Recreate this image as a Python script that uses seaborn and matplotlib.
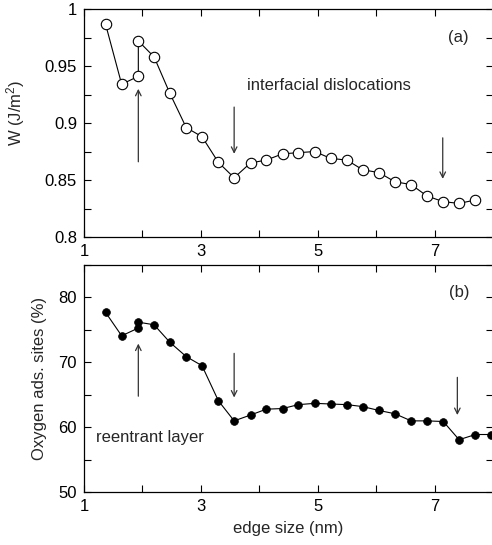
import matplotlib
matplotlib.use("Agg")
import matplotlib.pyplot as plt
from matplotlib.ticker import FixedLocator, FuncFormatter, MultipleLocator
import seaborn as sns
import pandas as pd

# ---- data ----
edge_a = [1.37, 1.645, 1.93, 1.93, 2.20, 2.47, 2.75, 3.02, 3.30, 3.57, 3.85, 4.12, 4.40,
          4.67, 4.95, 5.22, 5.50, 5.77, 6.05, 6.32, 6.60, 6.87, 7.15, 7.42, 7.70]
W_vals = [0.9866, 0.934, 0.941, 0.972, 0.958, 0.926, 0.896, 0.888, 0.8655, 0.852, 0.865,
          0.8675, 0.873, 0.874, 0.875, 0.869, 0.8675, 0.859, 0.8565, 0.8485, 0.846, 0.836,
          0.831, 0.8295, 0.8325]

edge_b = [1.37, 1.645, 1.93, 1.93, 2.20, 2.47, 2.75, 3.02, 3.30, 3.57, 3.85, 4.12, 4.40,
          4.67, 4.95, 5.22, 5.50, 5.77, 6.05, 6.32, 6.60, 6.87, 7.15, 7.42, 7.70, 7.97]
O_vals = [77.7, 74.1, 75.3, 76.2, 75.8, 73.1, 70.9, 69.5, 64.1, 61.0, 61.9, 62.8, 62.9,
          63.5, 63.7, 63.6, 63.5, 63.2, 62.6, 62.1, 61.0, 61.0, 60.9, 58.1, 58.9, 58.9]

x_ticks = [1, 2, 3, 4, 5, 6, 7, 8]
x_labels_shown = [1, 3, 5, 7]

df_a = pd.DataFrame({"edge": edge_a, "W": W_vals})
df_b = pd.DataFrame({"edge": edge_b, "O": O_vals})

sns.set_style("ticks")
plt.rcParams["font.family"] = ["Liberation Sans", "DejaVu Sans"]
plt.rcParams["mathtext.fontset"] = "custom"
plt.rcParams["mathtext.rm"] = "Liberation Sans"
plt.rcParams["mathtext.it"] = "Liberation Sans:italic"
plt.rcParams["xtick.direction"] = "in"
plt.rcParams["ytick.direction"] = "in"

fig = plt.figure(figsize=(4.92, 5.45), dpi=100)
ax1 = fig.add_axes([0.1707, 0.5651, 0.8313, 0.4183])
ax2 = fig.add_axes([0.1707, 0.0967, 0.8313, 0.4170])

sns.lineplot(data=df_a, x="edge", y="W", sort=False, estimator=None, ax=ax1,
             color="black", lw=0.8, marker="o", markersize=7.5,
             markerfacecolor="white", markeredgecolor="black", markeredgewidth=0.8)
sns.lineplot(data=df_b, x="edge", y="O", sort=False, estimator=None, ax=ax2,
             color="black", lw=0.8, marker="o", markersize=5.6,
             markerfacecolor="black", markeredgecolor="black", markeredgewidth=0.5)

fmt = FuncFormatter(lambda v, p: f"{int(round(v))}" if int(round(v)) in x_labels_shown else "")

for ax in (ax1, ax2):
    ax.set_xlim(1, 8)
    ax.xaxis.set_major_locator(FixedLocator(x_ticks))
    ax.xaxis.set_major_formatter(fmt)
    ax.tick_params(which="both", top=True, right=True, direction="in",
                   labelsize=12, width=0.8, colors="black", pad=5)
    ax.tick_params(which="major", length=5)
    ax.tick_params(which="minor", length=5)
    for s in ax.spines.values():
        s.set_linewidth(0.9)
        s.set_color("black")
    ax.set_xlabel("")

ax1.set_ylim(0.8, 1.0)
ax1.yaxis.set_major_locator(FixedLocator([0.8, 0.85, 0.9, 0.95, 1.0]))
ax1.yaxis.set_major_formatter(FuncFormatter(lambda v, p: f"{v:g}"))
ax1.yaxis.set_minor_locator(MultipleLocator(0.025))
ax1.set_ylabel("W (J/m$^2$)", fontsize=12)
ax1.yaxis.set_label_coords(-0.14, 0.545)

ax2.set_ylim(50, 85)
ax2.yaxis.set_major_locator(FixedLocator([50, 60, 70, 80]))
ax2.yaxis.set_minor_locator(MultipleLocator(5))
ax2.set_ylabel("Oxygen ads. sites (%)", fontsize=12, labelpad=8)
ax2.set_xlabel("edge size (nm)", fontsize=12, labelpad=5)

arrow_kw = dict(arrowstyle="->", lw=0.9, color="#333333", shrinkA=0, shrinkB=0)
# panel a arrows
ax1.annotate("", xy=(1.93, 0.930), xytext=(1.93, 0.866), arrowprops=arrow_kw)
ax1.annotate("", xy=(3.57, 0.873), xytext=(3.57, 0.914), arrowprops=arrow_kw)
ax1.annotate("", xy=(7.14, 0.851), xytext=(7.14, 0.887), arrowprops=arrow_kw)
ax1.text(3.79, 0.933, "interfacial dislocations", fontsize=12, va="center", ha="left")
ax1.text(7.4, 0.975, "(a)", fontsize=12, va="center", ha="center")

# panel b arrows
ax2.annotate("", xy=(1.93, 72.9), xytext=(1.93, 64.8), arrowprops=arrow_kw)
ax2.annotate("", xy=(3.57, 64.6), xytext=(3.57, 71.4), arrowprops=arrow_kw)
ax2.annotate("", xy=(7.39, 61.9), xytext=(7.39, 67.7), arrowprops=arrow_kw)
ax2.text(1.2, 58.4, "reentrant layer", fontsize=12, va="center", ha="left")
ax2.text(7.42, 80.7, "(b)", fontsize=12, va="center", ha="center")

fig.savefig("out.png", dpi=100)
